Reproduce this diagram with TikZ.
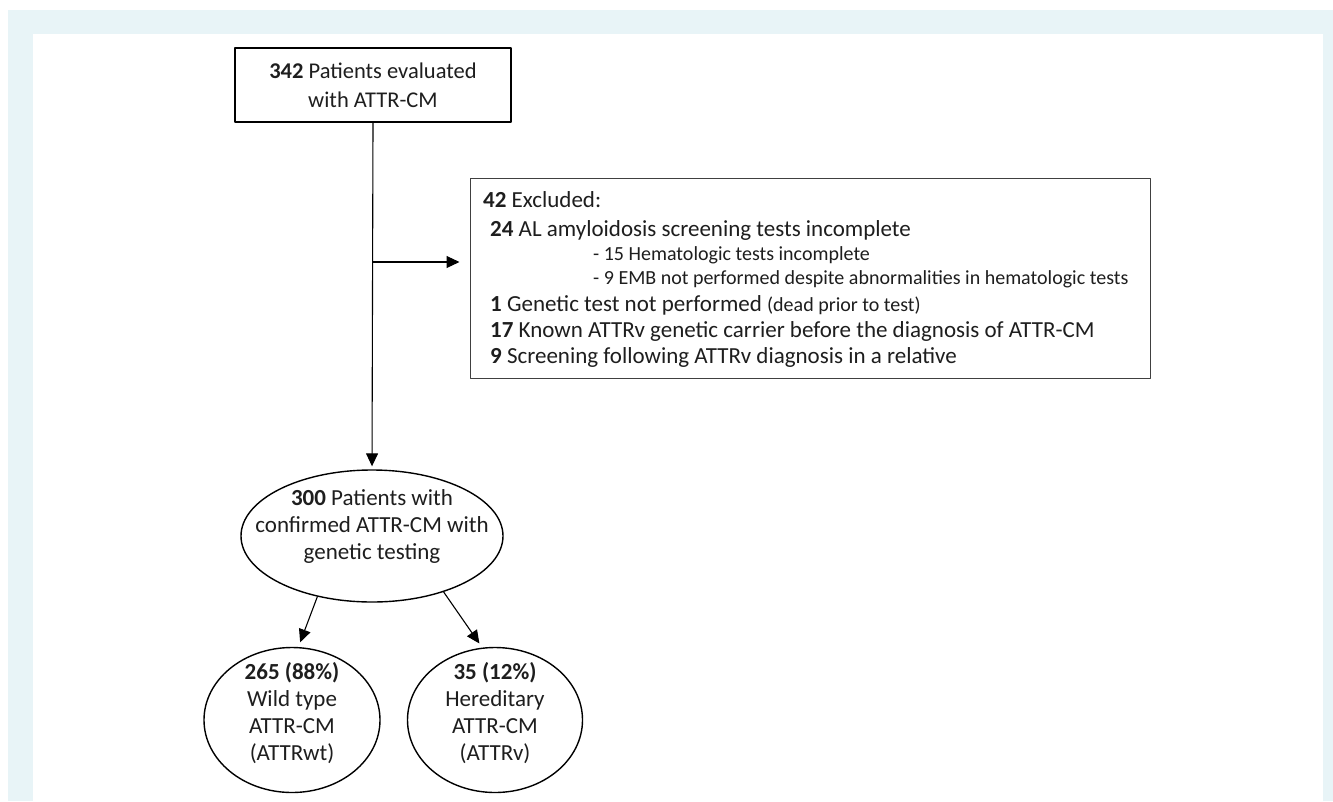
\documentclass[tikz,border=0pt]{standalone}
\usepackage{fontspec}
\setmainfont{Carlito}
\usetikzlibrary{arrows.meta}
\usetikzlibrary{shapes.geometric}
\definecolor{panelblue}{RGB}{232,244,247}
\definecolor{inkgray}{RGB}{30,30,30}

\begin{document}
\begin{tikzpicture}[line cap=round,line join=round,>={Triangle[length=13pt,width=12pt]},x=1pt,y=-1pt,
  every node/.style={text=inkgray,font=\fontsize{22.5}{29}\selectfont},
  topbox/.style={draw=black,line width=1.6pt,rectangle,align=center,inner sep=0pt,
    minimum width=276pt,minimum height=74pt},
  exbox/.style={draw=black!75,line width=1pt,rectangle,inner sep=0pt,
    minimum width=680pt,minimum height=200pt},
  exline/.style={anchor=base west,inner sep=0pt,font=\fontsize{23}{28}\selectfont},
  bubble/.style={draw=black,line width=1.4pt,ellipse,inner sep=0pt},
  flow/.style={->,line width=1.1pt,color=black}]
\useasboundingbox (0,0) rectangle (1333,801);
%panel
\fill[panelblue] (8,10) rectangle (1333,801);
\fill[white] (33,34) rectangle (1323,801);

%boxes
\node[topbox] (start) at (373,85) {\textbf{342} Patients evaluated\\with ATTR-CM};
\node[exbox] (excl) at (810,278) {};
\foreach \n/\x/\y/\txt in {
  1/483/207/{\textbf{42} Excluded:},
  2/490/236/{\textbf{24} AL amyloidosis screening tests incomplete},
  3/593/260/{\fontsize{20}{24}\selectfont - 15 Hematologic tests incomplete},
  4/593/284/{\fontsize{20}{24}\selectfont - 9 EMB not performed despite abnormalities in hematologic tests},
  5/490/311/{\textbf{1} Genetic test not performed {\fontsize{20}{24}\selectfont (dead prior to test)}},
  6/490/337/{\textbf{17} Known ATTRv genetic carrier before the diagnosis of ATTR-CM},
  7/490/363/{\textbf{9} Screening following ATTRv diagnosis in a relative}}
{
\node[exline] (ex\n) at (\x,\y) {\txt};
}

%ellipses
\node[bubble,minimum width=262pt,minimum height=132pt,
  label={[align=center,yshift=10pt,font=\fontsize{23}{27}\selectfont]center:\textbf{300} Patients with\\confirmed ATTR-CM with\\genetic testing}]
  (confirmed) at (372,536) {};
\node[bubble,minimum width=176pt,minimum height=145pt,
  label={[align=center,yshift=7pt,font=\fontsize{23}{27}\selectfont]center:\textbf{265 (88\%)}\\Wild type\\ATTR-CM\\(ATTRwt)}]
  (wild) at (292,720) {};
\node[bubble,minimum width=175pt,minimum height=145pt,
  label={[align=center,yshift=7pt,font=\fontsize{23}{27}\selectfont]center:\textbf{35 (12\%)}\\Hereditary\\ATTR-CM\\(ATTRv)}]
  (hered) at (495,720) {};

%arrows
\coordinate (split) at (start.south |- 0,262);
\draw[flow,shorten >=3pt] (start.south) -- (confirmed.north);
\draw[flow,shorten >=10pt] (split) -- (split -| excl.west);
\draw[flow,shorten >=5pt] (confirmed.228) -- (wild.85);
\draw[flow,shorten >=5pt] (confirmed.322) -- (hered.100);
\end{tikzpicture}
\end{document}
